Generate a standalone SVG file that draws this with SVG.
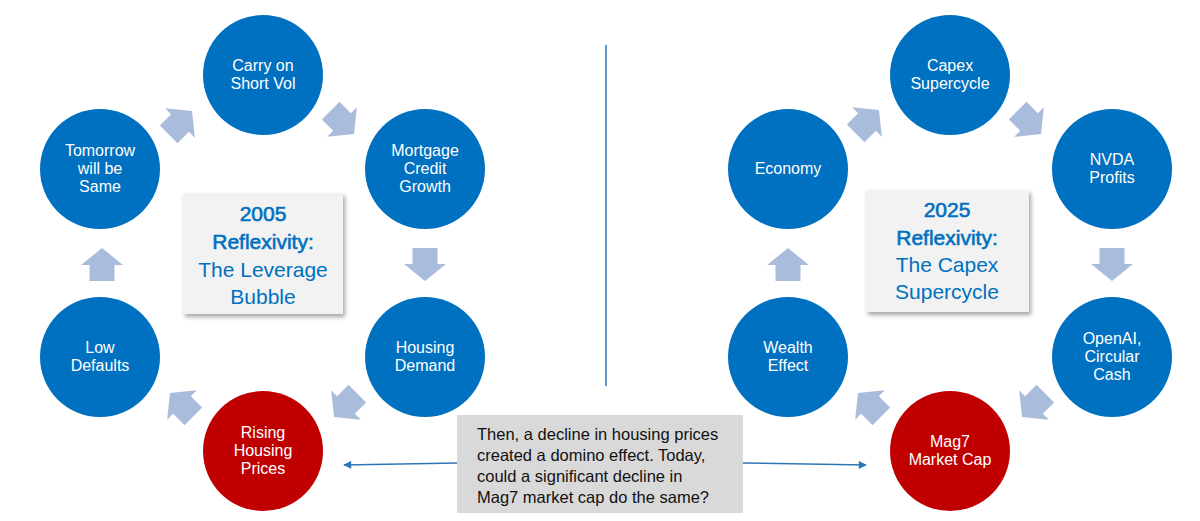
<svg xmlns="http://www.w3.org/2000/svg" width="1200" height="521" viewBox="0 0 1200 521">
<defs>
<style>
.n{fill:#0070C0}
.r{fill:#C00000}
.t{font-family:"Liberation Sans",Arial,sans-serif;font-size:16px;fill:#fff;text-anchor:middle}
.b{fill:#F2F2F2}
.h{font-family:"Liberation Sans",Arial,sans-serif;font-size:21px;fill:#0070C0;text-anchor:middle}
.hb{stroke:#0070C0;stroke-width:0.6}
.ba{fill:#A9BCDC}
.ln{stroke:#2E75B6;stroke-width:1.5;fill:none}
.note{font-family:"Liberation Sans",Arial,sans-serif;font-size:16.5px;fill:#111}
</style>
<path id="ar" d="M0,-17 L21,0 L12.5,0 L12.5,16 L-12.5,16 L-12.5,0 L-21,0 Z"/>
<marker id="m" viewBox="0 0 10 10" refX="9" refY="5" markerWidth="9" markerHeight="8" orient="auto-start-reverse" markerUnits="userSpaceOnUse"><path d="M0,0 L10,5 L0,10 Z" fill="#2E75B6"/></marker>
<filter id="sh" x="-10%" y="-10%" width="125%" height="130%"><feDropShadow dx="2" dy="3" stdDeviation="2" flood-color="#000" flood-opacity="0.35"/></filter>
</defs>

<g id="connectors">
<g class="ba">
<use href="#ar" transform="translate(102,265)"/>
<use href="#ar" transform="translate(180,123) rotate(45)"/>
<use href="#ar" transform="translate(342,122) rotate(135)"/>
<use href="#ar" transform="translate(425,264) rotate(180)"/>
<use href="#ar" transform="translate(346,405) rotate(225)"/>
<use href="#ar" transform="translate(182,405) rotate(315)"/>
<use href="#ar" transform="translate(788,265)"/>
<use href="#ar" transform="translate(867,122) rotate(45)"/>
<use href="#ar" transform="translate(1029,122) rotate(135)"/>
<use href="#ar" transform="translate(1112,264) rotate(180)"/>
<use href="#ar" transform="translate(1034,405) rotate(225)"/>
<use href="#ar" transform="translate(870,405) rotate(315)"/>
</g>
<line class="ln" x1="606" y1="45" x2="606" y2="386"/>
<line class="ln" x1="457" y1="463" x2="344" y2="465" marker-end="url(#m)"/>
<line class="ln" x1="743" y1="463" x2="866" y2="465" marker-end="url(#m)"/>
</g>

<g id="carry"><circle class="n" cx="263" cy="75" r="60"/><text class="t" x="263" y="71">Carry on</text><text class="t" x="263" y="89">Short Vol</text></g>
<g id="mortgage"><circle class="n" cx="425" cy="169" r="60"/><text class="t" x="425" y="156">Mortgage</text><text class="t" x="425" y="174">Credit</text><text class="t" x="425" y="192">Growth</text></g>
<g id="housing-demand"><circle class="n" cx="425" cy="357" r="60"/><text class="t" x="425" y="353">Housing</text><text class="t" x="425" y="371">Demand</text></g>
<g id="rising"><circle class="r" cx="263" cy="451" r="60"/><text class="t" x="263" y="438">Rising</text><text class="t" x="263" y="456">Housing</text><text class="t" x="263" y="474">Prices</text></g>
<g id="low-defaults"><circle class="n" cx="100" cy="357" r="60"/><text class="t" x="100" y="353">Low</text><text class="t" x="100" y="371">Defaults</text></g>
<g id="tomorrow"><circle class="n" cx="100" cy="169" r="60"/><text class="t" x="100" y="156">Tomorrow</text><text class="t" x="100" y="174">will be</text><text class="t" x="100" y="192">Same</text></g>

<g id="box2005"><rect class="b" x="183" y="193" width="160" height="121" filter="url(#sh)"/>
<text class="h hb" x="263" y="221">2005</text><text class="h hb" x="263" y="249">Reflexivity:</text><text class="h" x="263" y="277">The Leverage</text><text class="h" x="263" y="304">Bubble</text></g>

<g id="capex"><circle class="n" cx="950" cy="75" r="60"/><text class="t" x="950" y="71">Capex</text><text class="t" x="950" y="89">Supercycle</text></g>
<g id="nvda"><circle class="n" cx="1112" cy="169" r="60"/><text class="t" x="1112" y="165">NVDA</text><text class="t" x="1112" y="183">Profits</text></g>
<g id="openai"><circle class="n" cx="1112" cy="357" r="60"/><text class="t" x="1112" y="344">OpenAI,</text><text class="t" x="1112" y="362">Circular</text><text class="t" x="1112" y="380">Cash</text></g>
<g id="mag7"><circle class="r" cx="950" cy="451" r="60"/><text class="t" x="950" y="447">Mag7</text><text class="t" x="950" y="465">Market Cap</text></g>
<g id="wealth"><circle class="n" cx="788" cy="357" r="60"/><text class="t" x="788" y="353">Wealth</text><text class="t" x="788" y="371">Effect</text></g>
<g id="economy"><circle class="n" cx="788" cy="169" r="60"/><text class="t" x="788" y="174">Economy</text></g>

<g id="box2025"><rect class="b" x="866" y="190" width="163" height="122" filter="url(#sh)"/>
<text class="h hb" x="947" y="217">2025</text><text class="h hb" x="947" y="245">Reflexivity:</text><text class="h" x="947" y="272">The Capex</text><text class="h" x="947" y="299">Supercycle</text></g>

<g id="note"><rect x="457" y="415" width="286" height="98" fill="#D9D9D9"/>
<text class="note" x="477" y="440">Then, a decline in housing prices</text>
<text class="note" x="477" y="461">created a domino effect. Today,</text>
<text class="note" x="477" y="482">could a significant decline in</text>
<text class="note" x="477" y="503">Mag7 market cap do the same?</text></g>
</svg>
